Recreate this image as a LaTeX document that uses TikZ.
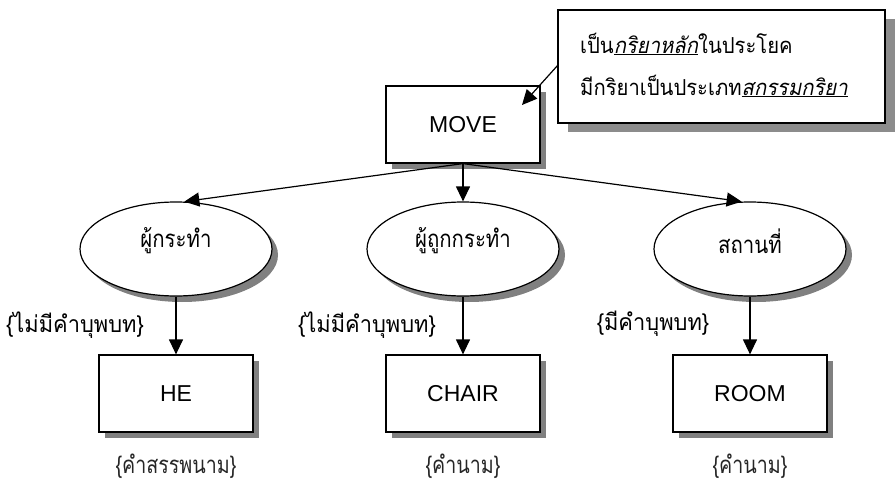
\documentclass[tikz,border=0pt]{standalone}
\usepackage{fontspec}
\setmainfont{Liberation Sans}
\newfontfamily\thai[Script=Thai,FakeStretch=0.95]{Loma}
\newfontfamily\thaic[Script=Thai,FakeStretch=0.92]{Loma}
\newfontfamily\thaisl[Script=Thai,FakeSlant=0.2,FakeStretch=0.92]{Loma}
\newfontfamily\thaiell[Script=Thai,FakeStretch=0.85]{Loma}
\newfontfamily\thainar[Script=Thai,FakeStretch=0.82]{Loma}
\usetikzlibrary{shapes.geometric,arrows.meta,shadows}
\tikzset{
  shd/.style={drop shadow={shadow xshift=6pt,shadow yshift=-6pt,fill=black!50,opacity=1}},
  box/.style={draw,line width=1.2pt,fill=white,shd,minimum width=154pt,minimum height=77pt,inner sep=0pt,font=\fontsize{23}{25}\selectfont},
  ell/.style={ellipse,draw,line width=1.2pt,fill=white,shd,minimum width=192pt,minimum height=94pt,inner sep=0pt},
  etext/.style={inner sep=0pt,font=\thaiell\fontsize{24}{26}\selectfont},
  arr/.style={line width=1.2pt,-{Triangle[length=15pt,width=14pt]}},
  lab/.style={inner sep=0pt,font=\thai\fontsize{23}{25}\selectfont},
  blab/.style={inner sep=0pt,text=black!85,font=\thainar\fontsize{24}{26}\selectfont},
  ctext/.style={inner sep=0pt,anchor=west,font=\thaic\fontsize{22}{24}\selectfont}
}
\begin{document}
\begin{tikzpicture}[x=1pt,y=-1pt]
\useasboundingbox (0,0) rectangle (895,495);
% callout
\node[draw,line width=1.2pt,fill=white,drop shadow={shadow xshift=10pt,shadow yshift=-9pt,fill=black!45,opacity=1},minimum width=327pt,minimum height=113pt,inner sep=0pt] (call) at (721.5,66.5) {};
\node[ctext] (c1) at (580,44) {เป็น\underline{\thaisl กริยาหลัก}ในประโยค};
\node[ctext] (c2) at (580,86) {มีกริยาเป็นประเภท\underline{\thaisl สกรรมกริยา}};
% main
\node[box] (move) at (463,124.5) {MOVE};
\node[ell] (e1) at (176,249) {};
\node[ell] (e2) at (463,249) {};
\node[ell] (e3) at (750,249) {};
\node[etext] (t1) at (176,241) {ผู้กระทำ};
\node[etext] (t2) at (463,241) {ผู้ถูกกระทำ};
\node[etext] (t3) at (750,241) {สถานที่};
\node[box] (he) at (176,393.5) {HE};
\node[box] (chair) at (463,393.5) {CHAIR};
\node[box] (room) at (750,393.5) {ROOM};
% pointer
\coordinate (cp) at (558,65);
\coordinate (mt) at (522,105);
\draw[arr] (cp) -- (mt);
% arrows
\draw[arr] (move.south) -- (e1.80);
\draw[arr] (move.south) -- (e2.north);
\draw[arr] (move.south) -- (e3.100);
\draw[arr] (e1.south) -- (he.north);
\draw[arr] (e2.south) -- (chair.north);
\draw[arr] (e3.south) -- (room.north);
% labels
\node[lab] (l1) at (75,325) {\{ไม่มีคำบุพบท\}};
\node[lab] (l2) at (367,325) {\{ไม่มีคำบุพบท\}};
\node[lab] (l3) at (653,324) {\{มีคำบุพบท\}};
\node[blab] (b1) at (176,466) {\{คำสรรพนาม\}};
\node[blab] (b2) at (463,466) {\{คำนาม\}};
\node[blab] (b3) at (750,466) {\{คำนาม\}};
\end{tikzpicture}
\end{document}
